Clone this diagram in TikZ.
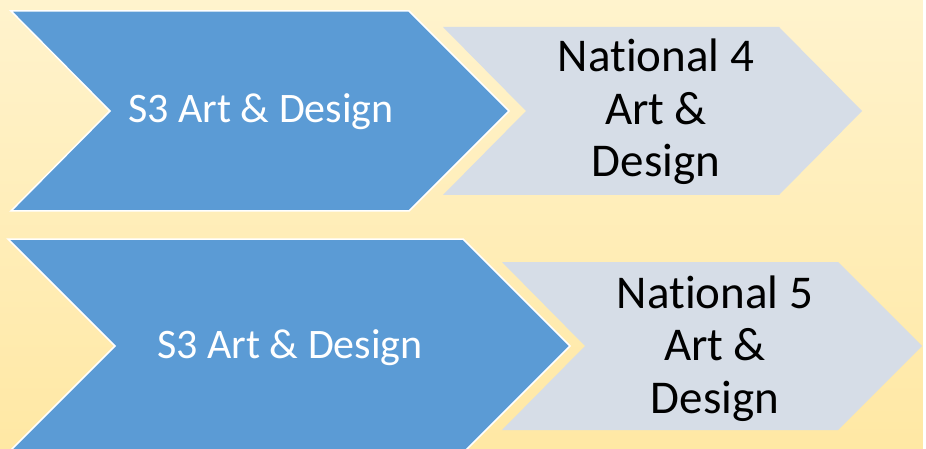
\documentclass[tikz,border=0pt]{standalone}
\usepackage{fontspec}
\setmainfont{Carlito}[RawFeature={-liga}]
\definecolor{bgtop}{HTML}{FFF3CD}
\definecolor{bgbot}{HTML}{FFE8A4}
\definecolor{chevblue}{HTML}{5B9BD5}
\definecolor{chevgray}{HTML}{D6DDE7}
\tikzset{
  bluechev/.style={fill=chevblue, draw=white, line width=1.5pt, line join=miter},
  graychev/.style={fill=chevgray},
  bluetext/.style={text=white, font=\fontsize{42}{50}\selectfont, inner sep=0pt, anchor=base},
  graytext/.style={text=black, font=\fontsize{47}{52.5}\selectfont, inner sep=0pt, align=center, anchor=base},
}
\begin{document}
\begin{tikzpicture}[x=1pt,y=-1pt]
\useasboundingbox (0,0) rectangle (926,449);
\clip (0,0) rectangle (926,449);
\shade[top color=bgtop, bottom color=bgbot] (0,0) rectangle (926,449);
\fill[white] (923,0) rectangle (926,449);
% top row
\path[graychev] (443,27) -- (779,27) -- (862,111) -- (779,195) -- (443,195) -- (526,111) -- cycle;
\path[bluechev] (11,11) -- (409,11) -- (509,111) -- (409,211) -- (11,211) -- (110,111) -- cycle;
% bottom row
\path[graychev] (502,262) -- (838,262) -- (922,346) -- (838,430) -- (502,430) -- (585,346) -- cycle;
\path[bluechev] (8,239) -- (463,239) -- (570,346) -- (463,453) -- (8,453) -- (115,346) -- cycle;
% texts
\node[bluetext] (s3top) at (261,123) {S3 Art \& Design};
\node[bluetext] (s3bot) at (290,358) {S3 Art \& Design};
\node[graytext] (n4) at (656,177) {National 4\\Art \&\\Design};
\node[graytext] (n5) at (715,413) {National 5\\Art \&\\Design};
\end{tikzpicture}
\end{document}
